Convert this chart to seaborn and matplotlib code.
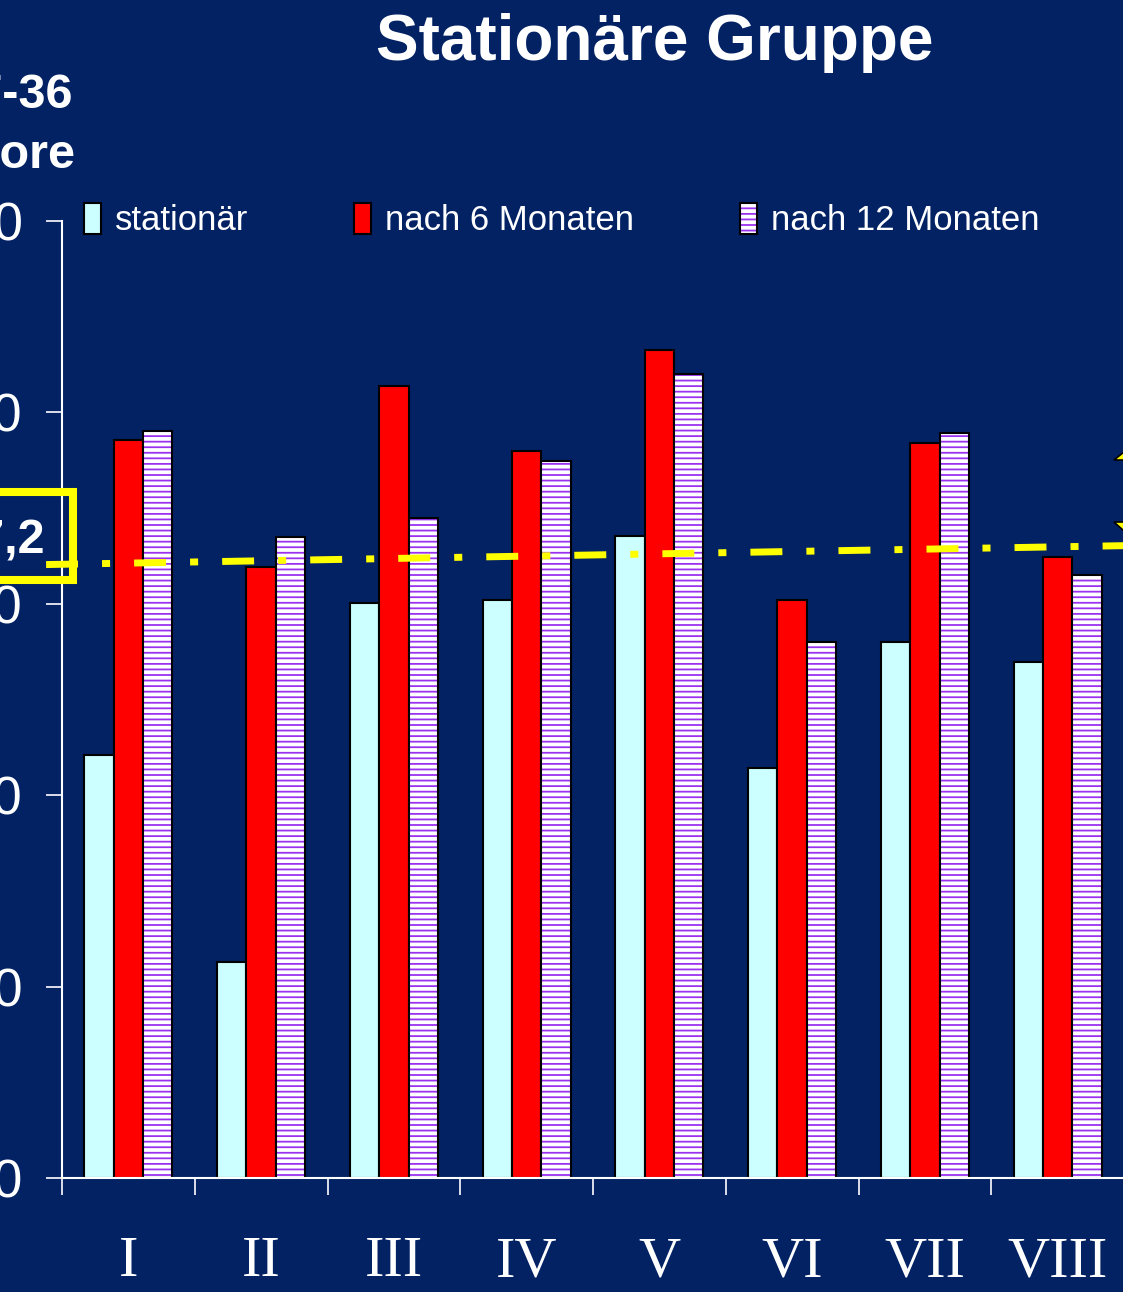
import numpy as np
import pandas as pd
import seaborn as sns
import matplotlib.pyplot as plt
from matplotlib.colors import to_rgba
from matplotlib.patches import Rectangle, Polygon
from matplotlib.ticker import FixedLocator

# --- data ---
categories = ["I", "II", "III", "IV", "V", "VI", "VII", "VIII"]
series = ["stationär", "nach 6 Monaten", "nach 12 Monaten"]
stationaer = [44.2, 22.6, 60.1, 60.4, 67.1, 42.8, 56.0, 53.9]
nach_6 = [77.1, 63.8, 82.8, 76.0, 86.5, 60.4, 76.8, 64.9]
nach_12 = [78.1, 67.0, 69.0, 74.9, 84.0, 56.0, 77.8, 63.0]
y_ticks = [0, 20, 40, 60, 80, 100]

# yellow reference line (start / end)
ref_x = [-0.62, 7.6]
ref_y = [64.1, 66.1]
ref_label = "67,2"

navy = "#022264"
cyan = "#CCFFFF"
red = "#FF0000"
purple = "#9A32F0"
yellow = "#FFFF00"

W, H = 1123, 1292

sns.set_style("white")
plt.rcParams["font.family"] = ["Liberation Sans", "DejaVu Sans"]
plt.rcParams["hatch.linewidth"] = 1.3
plt.rcParams["lines.scale_dashes"] = False

serif = ["Liberation Serif", "DejaVu Serif"]

df = pd.DataFrame({
    "Gruppe": categories * 3,
    "Zeitpunkt": np.repeat(series, len(categories)),
    "Score": stationaer + nach_6 + nach_12,
})

fig = plt.figure(figsize=(W / 100, H / 100), dpi=100, facecolor=navy)
ax = fig.add_axes([62 / W, 114 / H, 1062 / W, 957 / H])
ax.set_facecolor(navy)

sns.barplot(data=df, x="Gruppe", y="Score", hue="Zeitpunkt",
            palette=[cyan, red, "white"], saturation=1, width=0.663, gap=0,
            edgecolor="black", linewidth=1.5, errorbar=None, legend=False, ax=ax)

# hatched 12-month bars
for p in ax.containers[2].patches:
    p.set_hatch("---")
    if hasattr(p, "set_hatchcolor"):
        p.set_hatchcolor(purple)
    else:
        p._hatch_color = to_rgba(purple)

ax.set_xlim(-0.5, 7.5)
ax.set_ylim(0, 100)
ax.set_yticks(y_ticks)
ax.set_xlabel("")
ax.set_ylabel("")

for s in ["top", "right"]:
    ax.spines[s].set_visible(False)
for s in ["left", "bottom"]:
    ax.spines[s].set_color("white")
    ax.spines[s].set_linewidth(1.5)

ax.tick_params(axis="y", colors="white", labelsize=38, length=11.5, width=1.2,
               pad=17, direction="out", left=True)
ax.tick_params(axis="x", which="major", colors="white", labelsize=42, length=0, pad=42)
ax.xaxis.set_minor_locator(FixedLocator(np.arange(-0.5, 7.5, 1)))
ax.tick_params(axis="x", which="minor", color="white", length=12, width=1.2,
               direction="out", bottom=True)
for t in ax.get_xticklabels():
    t.set_fontfamily(serif)

# dash-dot reference line
ax.plot(ref_x, ref_y, color=yellow, lw=5, dashes=(23, 17.3, 5.8, 17.3),
        dash_capstyle="butt", clip_on=False, zorder=6)

leg = ax.legend(handles=ax.containers, labels=series, loc="center left",
                bbox_to_anchor=(84 / W, 1 - 220 / H), bbox_transform=fig.transFigure,
                ncol=3, frameon=False, borderpad=0, borderaxespad=0,
                handlelength=0.49, handleheight=0.98, handletextpad=0.4,
                columnspacing=3.05, prop={"size": 25})
for t in leg.get_texts():
    t.set_color("white")

# title and axis title (partly cut off at left edge)
fig.text(655 / W, 1 - 43 / H, "Stationäre Gruppe", ha="center", va="center",
         fontsize=46, fontweight="bold", color="white")
fig.text(73 / W, 1 - 108 / H, "SF-36", ha="right", va="baseline",
         fontsize=35, fontweight="bold", color="white")
fig.text(76 / W, 1 - 168 / H, "Score", ha="right", va="baseline",
         fontsize=35, fontweight="bold", color="white")

# yellow box with reference value
fig.add_artist(Rectangle((-20 / W, 1 - 580 / H), 92.5 / W, 88 / H,
                         transform=fig.transFigure, fill=False,
                         edgecolor=yellow, lw=5.8, zorder=5))
fig.text(45 / W, 1 - 541 / H, ref_label, ha="right", va="center",
         fontsize=35, fontweight="bold", color="white")

# tips of the yellow shape at the right edge
for pts in ([(1114, 460), (1124, 452), (1124, 460)],
            [(1114, 522), (1124, 522), (1124, 531)]):
    fig.add_artist(Polygon([(x / W, 1 - y / H) for x, y in pts],
                           transform=fig.transFigure, facecolor=yellow,
                           edgecolor="black", lw=1.2, zorder=5))

fig.savefig("out.png", dpi=100, facecolor=navy)
